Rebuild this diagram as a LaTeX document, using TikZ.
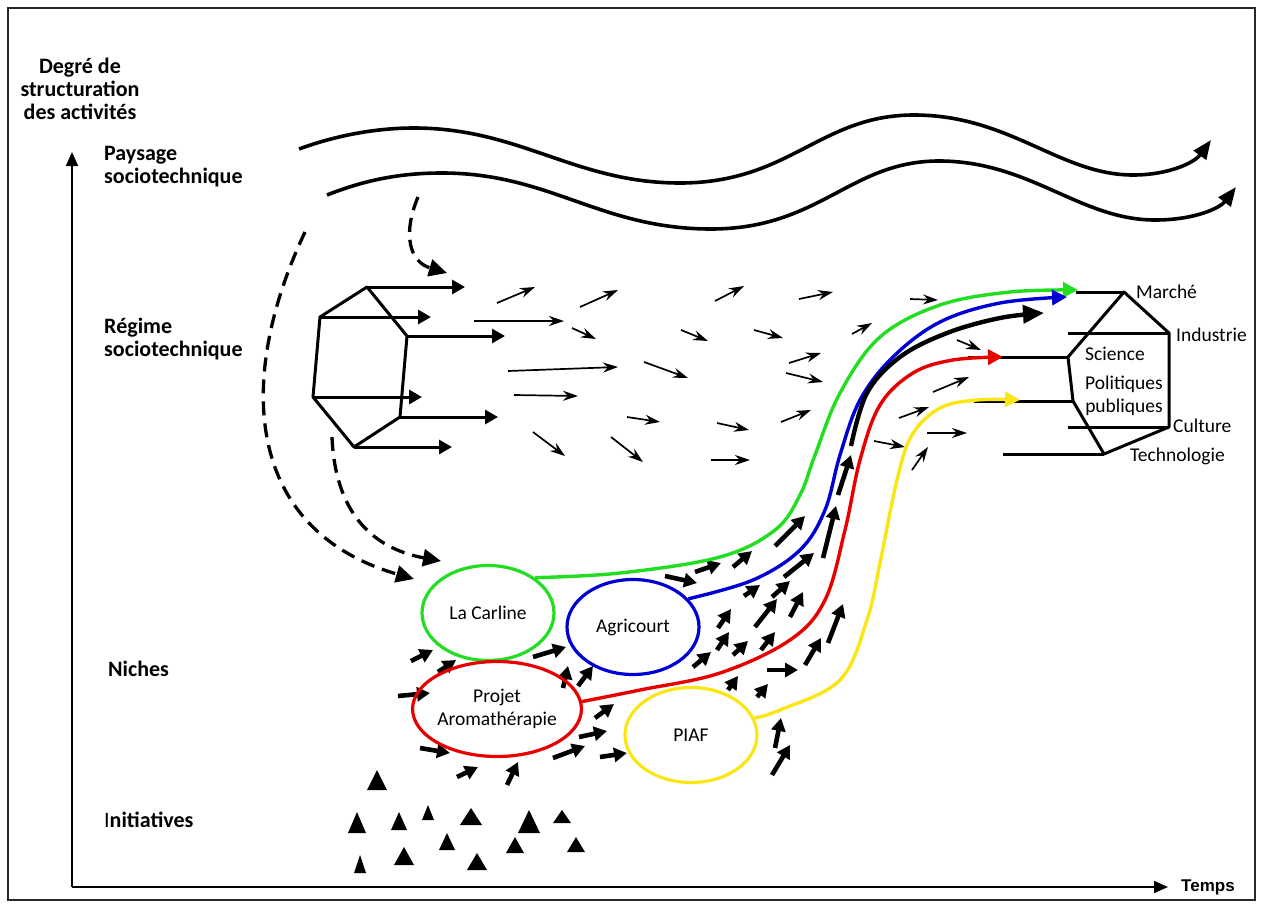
\documentclass[tikz,border=0pt]{standalone}
\usepackage{fontspec}
\setmainfont{Carlito}
\newfontfamily\arialfont{Liberation Sans}
\usetikzlibrary{arrows.meta,shapes.geometric,positioning}
\definecolor{nicheGreen}{RGB}{34,221,34}
\definecolor{nicheBlue}{RGB}{0,0,210}
\definecolor{nicheRed}{RGB}{232,0,0}
\definecolor{nicheYellow}{RGB}{250,230,20}
\definecolor{frameDark}{RGB}{40,40,40}
\tikzset{
  axislabel/.style={font=\fontsize{22}{23}\selectfont\bfseries, align=left,
    anchor=west, inner sep=0pt},
  hexlabel/.style={font=\fontsize{19.5}{23}\selectfont, anchor=west, inner sep=0pt},
  niche/.style={ellipse, line width=3.2pt, minimum width=132pt, minimum height=95pt,
    inner sep=0pt, font=\fontsize{19.5}{23}\selectfont, align=center},
  trajectory/.style={line width=3.4pt, -{Triangle[length=15pt,width=15pt]}},
  landscape/.style={line width=3.6pt, -{Triangle[length=19pt,width=15pt]}},
  dasharc/.style={line width=3.3pt, dash pattern=on 14pt off 8pt,
    -{Triangle[length=18pt,width=17pt]}},
  spoke/.style={line width=3pt, -{Triangle[length=13pt,width=14pt]}},
  hexline/.style={line width=3pt, line join=round},
  axis/.style={line width=1.8pt, -{Triangle[length=14pt,width=12pt]}},
  fieldarrow/.style={line width=1.7pt, -{Stealth[length=15pt,width=10pt,inset=5pt]}},
  pusharrow/.style={line width=4.6pt, -{Triangle[length=13pt,width=14pt]}}
}
\begin{document}
\begin{tikzpicture}[x=1pt, y=-1pt]
  \useasboundingbox (0,0) rectangle (1262,908);
  \draw[line width=2.4pt, frameDark] (8,8) rectangle (1255,900);

  % axes
  \coordinate (origin) at (72,887);
  \coordinate (yend) at (72,152);
  \coordinate (xend) at (1168,887);
  \draw[axis] (origin) -- (yend);
  \draw[axis] (origin) -- (xend);
  \node[font=\arialfont\fontsize{17}{20}\selectfont\bfseries, anchor=west,
        right=13pt of xend, inner sep=0pt] (temps) {Temps};
  \node[font=\fontsize{22}{23}\selectfont\bfseries, align=center] (degre)
    at (80,89) {Degr\'e de\\structuration\\des activit\'es};

  % levels
  \node[axislabel] (paysage) at (104,167) {Paysage\\sociotechnique};
  \node[axislabel] (regime) at (104,339) {R\'egime\\sociotechnique};
  \node[axislabel] (niches) at (108,669) {Niches};
  \node[axislabel] (initiatives) at (104,820) {{\mdseries I}nitiatives};

  % landscape waves
  \draw[landscape] (299,149) .. controls (340,134) and (380,128) .. (414,128)
    .. controls (520,128) and (575,183) .. (680,183)
    .. controls (790,183) and (820,115) .. (914,115)
    .. controls (1010,115) and (1060,175) .. (1133,175)
    .. controls (1170,175) and (1195,162) .. (1211,140);
  \draw[landscape] (327,195) .. controls (365,180) and (400,173) .. (442,173)
    .. controls (550,173) and (600,229) .. (711,229)
    .. controls (820,229) and (850,161) .. (939,161)
    .. controls (1030,161) and (1080,220) .. (1155,220)
    .. controls (1195,220) and (1220,208) .. (1236,187);

  % dashed influences
  \draw[dasharc] (418,197) .. controls (402,235) and (410,262) .. (447,273);
  \draw[dasharc] (305,232) .. controls (235,380) and (245,530) .. (414,579);
  \draw[dasharc] (332,437) .. controls (335,510) and (370,548) .. (441,561);

  % regime (left)
  \coordinate (lt) at (367,287);
  \coordinate (lul) at (320,317);
  \coordinate (lll) at (313,397);
  \coordinate (lb) at (354,447);
  \coordinate (llr) at (400,417);
  \coordinate (lur) at (407,336);
  \draw[hexline] (lt) -- (lul) -- (lll) -- (lb) -- (llr) -- (lur) -- cycle;
  \draw[spoke] (lt) -- ++(98,0);
  \draw[spoke] (lul) -- ++(111,0);
  \draw[spoke] (lur) -- ++(98,0);
  \draw[spoke] (lll) -- ++(109,0);
  \draw[spoke] (llr) -- ++(98,0);
  \draw[spoke] (lb) -- ++(98,0);

  % field of thin arrows
  \foreach \xa/\ya/\xb/\yb in {497/303/535/287, 580/307/618/290, 715/301/744/286,
      799/299/833/292, 910/299/938/300, 474/321/564/321, 572/328/596/339,
      681/330/708/341, 754/330/783/338, 852/334/872/323, 508/371/618/367,
      644/362/688/378, 789/363/821/353, 786/373/823/382, 957/340/981/350,
      514/395/578/396, 627/417/660/422, 717/423/749/430, 781/422/811/410,
      933/392/969/377, 899/418/929/407, 927/433/967/433, 874/441/905/447,
      533/432/565/456, 611/437/643/462, 711/460/750/460, 912/470/928/447}
    \draw[fieldarrow] (\xa,\ya) -- (\xb,\yb);

  % thick arrows around the niches
  \foreach \xa/\ya/\xb/\yb in {411/661/433/650, 438/672/456/660, 398/696/430/693,
      420/748/450/753, 457/777/478/767, 507/785/518/762, 533/657/566/647,
      563/688/568/666, 578/686/593/666, 553/758/585/746, 579/737/607/731,
      595/718/614/704, 600/757/627/753, 665/576/697/583, 695/572/721/563,
      733/567/752/551, 775/546/805/516, 744/596/760/585, 772/597/790/581,
      784/577/814/553, 823/558/836/506, 838/495/851/455, 718/628/731/609,
      717/650/729/632, 755/627/777/599, 790/617/803/592, 693/667/711/652,
      733/655/748/641, 761/650/775/632, 767/670/798/670, 805/665/821/638,
      828/643/843/604, 728/690/738/676, 757/697/768/684, 775/748/781/718,
      772/775/790/745}
    \draw[pusharrow] (\xa,\ya) -- (\xb,\yb);

  % niches
  \node[niche, draw=nicheGreen] (carline) at (488,613) {La Carline};
  \node[niche, draw=nicheBlue] (agricourt) at (633,627) {Agricourt};
  \node[niche, draw=nicheRed] (projet) at (497,709) {Projet\\Aromath\'erapie};
  \node[niche, draw=nicheYellow] (piaf) at (691,735) {PIAF};

  % regime (right)
  \coordinate (mk) at (1124,292);
  \coordinate (ind) at (1169,333);
  \coordinate (cul) at (1169,427);
  \coordinate (tec) at (1104,454);
  \coordinate (pol) at (1073,401);
  \coordinate (sci) at (1068,357);
  \draw[hexline] (mk) -- (ind) -- (cul) -- (tec) -- (pol) -- (sci) -- cycle;
  \draw[hexline] (mk) -- ++(-48,0);
  \draw[hexline] (ind) -- ++(-101,0);
  \draw[hexline] (sci) -- ++(-100,0);
  \draw[hexline] (pol) -- ++(-99,0);
  \draw[hexline] (cul) -- ++(-101,0);
  \draw[hexline] (tec) -- ++(-101,0);
  \node[hexlabel] (marche) at (1136,292) {March\'e};
  \node[hexlabel] (industrie) at (1176,335) {Industrie};
  \node[hexlabel] (science) at (1085,354) {Science};
  \node[hexlabel, anchor=center, align=center] (politiques) at (1124,396)
    {Politiques\\publiques};
  \node[hexlabel] (culture) at (1173,426) {Culture};
  \node[hexlabel] (technologie) at (1130,456) {Technologie};

  % trajectories
  \coordinate (blackstart) at (851,446);
  \draw[trajectory, nicheGreen] plot[smooth, tension=0.6] coordinates {(carline.37)
    (620,573) (720,557) (775,530) (800,495) (815,455) (840,393) (880,337)
    (940,305) (1010,292) (1078,290)};
  \draw[trajectory, nicheBlue] plot[smooth, tension=0.6] coordinates {(agricourt.27)
    (753,580) (800,550) (825,510) (840,455) (860,400) (893,357) (940,322)
    (1000,303) (1067,297)};
  \draw[line width=4.4pt, -{Triangle[length=21pt,width=18pt]}] plot[smooth, tension=0.6]
    coordinates {(blackstart) (867,393) (900,357) (947,333) (1000,318) (1044,313)};
  \draw[trajectory, nicheRed] plot[smooth, tension=0.6] coordinates {(projet.5)
    (640,690) (720,673) (790,640) (825,600) (845,530) (860,460) (880,405)
    (913,373) (953,360) (1003,357)};
  \draw[trajectory, nicheYellow] plot[smooth, tension=0.6] coordinates {(piaf.15)
    (780,710) (840,680) (867,620) (880,563) (897,480) (912,435) (940,408)
    (977,400) (1020,400)};

  % initiatives
  \foreach \x/\y/\w/\h in {377/770/10/20, 357/812/9/21, 399/812/8/18, 428/805/6/15,
      471/808/11/17, 529/810/11/23, 562/810/9/13, 447/833/8/17, 515/837/9/16,
      576/837/9/15, 360/855/6/18, 404/847/10/18, 477/853/10/17}
    \fill (\x,\y) -- ++(-\w,\h) -- ++(2*\w,0) -- cycle;
\end{tikzpicture}
\end{document}
